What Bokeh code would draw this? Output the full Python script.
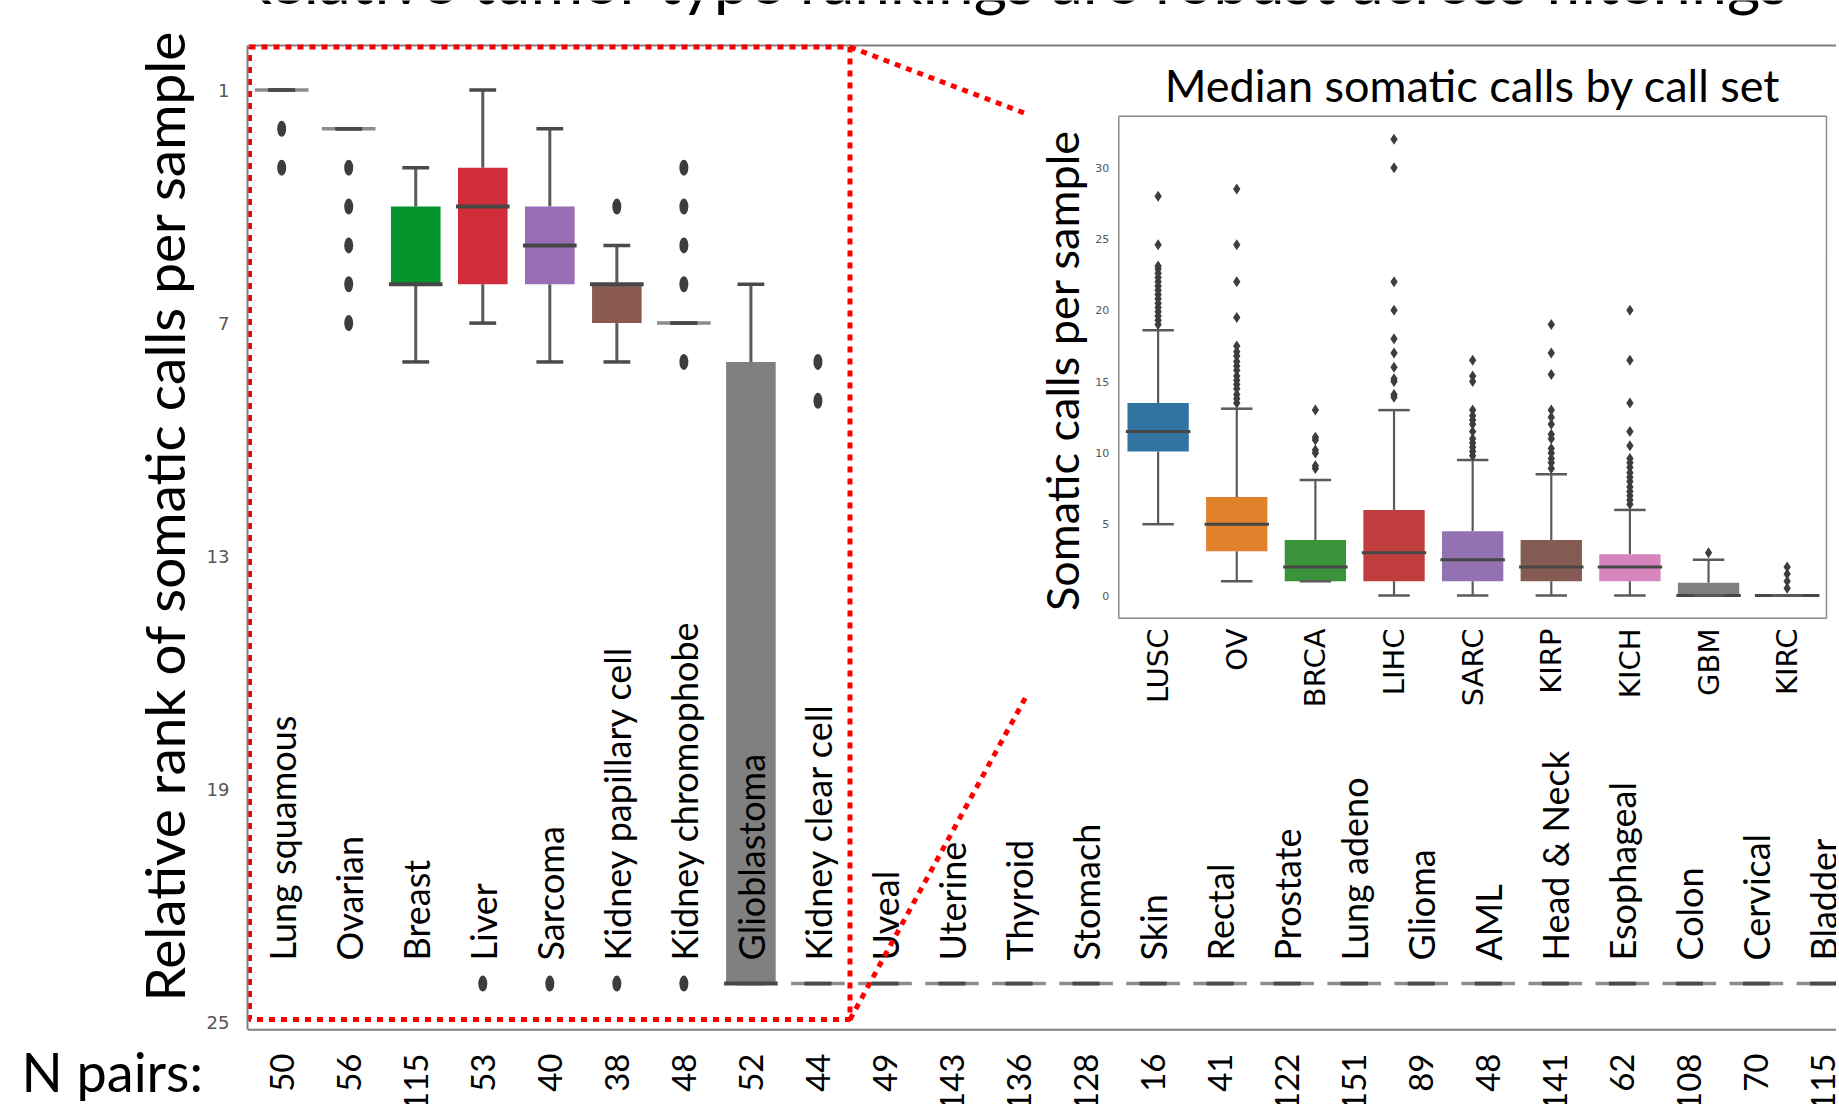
import math
from bokeh.plotting import figure
from bokeh.layouts import row
from bokeh.models import Range1d, FixedTicker
from bokeh.core.properties import value
from bokeh.embed import file_html
from bokeh.resources import INLINE

# ---------------- data: relative rank per tumor type ----------------
tumor_types = ["Lung squamous", "Ovarian", "Breast", "Liver", "Sarcoma",
               "Kidney papillary cell", "Kidney chromophobe", "Glioblastoma",
               "Kidney clear cell", "Uveal", "Uterine", "Thyroid", "Stomach", "Skin",
               "Rectal", "Prostate", "Lung adeno", "Glioma", "AML", "Head & Neck",
               "Esophageal", "Colon", "Cervical", "Bladder"]
n_pairs = [50, 56, 115, 53, 40, 38, 48, 52, 44, 49, 143, 136, 128, 16, 41, 122,
           151, 89, 48, 141, 62, 108, 70, 115]
rank_whisker_top = [1, 2, 3, 1, 2, 5, 7, 6, 24, 24, 24, 24, 24, 24, 24, 24, 24, 24, 24, 24, 24, 24, 24, 24]
rank_q1 = [1, 2, 4, 3, 4, 6, 7, 8, 24, 24, 24, 24, 24, 24, 24, 24, 24, 24, 24, 24, 24, 24, 24, 24]
rank_median = [1, 2, 6, 4, 5, 6, 7, 24, 24, 24, 24, 24, 24, 24, 24, 24, 24, 24, 24, 24, 24, 24, 24, 24]
rank_q3 = [1, 2, 6, 6, 6, 7, 7, 24, 24, 24, 24, 24, 24, 24, 24, 24, 24, 24, 24, 24, 24, 24, 24, 24]
rank_whisker_bottom = [1, 2, 8, 7, 8, 8, 7, 24, 24, 24, 24, 24, 24, 24, 24, 24, 24, 24, 24, 24, 24, 24, 24, 24]
rank_outliers = [[2, 3], [3, 4, 5, 6, 7], [], [24], [24], [4, 24], [3, 4, 5, 6, 8, 24], [],
                 [8, 9], [], [], [], [], [], [], [], [], [], [], [], [], [], [], []]
rank_colors = ["#1f77b4", "#ff7f0e", "#02932a", "#d02c39", "#9a6db6", "#8b5a50",
               "#e377c2", "#808080", "#bcbd22", "#17becf", "#1f77b4", "#ff7f0e",
               "#2ca02c", "#d62728", "#9467bd", "#8c564b", "#e377c2", "#7f7f7f",
               "#bcbd22", "#17becf", "#1f77b4", "#ff7f0e", "#2ca02c", "#d62728"]
rank_ticks = [1, 7, 13, 19, 25]

# ---------------- data: inset, median somatic calls by call set ----------------
call_sets = ["LUSC", "OV", "BRCA", "LIHC", "SARC", "KIRP", "KICH", "GBM", "KIRC"]
calls_whisker_low = [5.0, 1.0, 1.0, 0.0, 0.0, 0.0, 0.0, 0.0, 0.0]
calls_q1 = [10.1, 3.1, 1.0, 1.0, 1.0, 1.0, 1.0, 0.0, 0.0]
calls_median = [11.5, 5.0, 2.0, 3.0, 2.5, 2.0, 2.0, 0.0, 0.0]
calls_q3 = [13.5, 6.9, 3.9, 6.0, 4.5, 3.9, 2.9, 0.9, 0.0]
calls_whisker_high = [18.6, 13.1, 8.1, 13.0, 9.5, 8.5, 6.0, 2.5, 0.0]
calls_outliers = [
    [19.0, 19.3, 19.6, 19.9, 20.2, 20.5, 20.8, 21.1, 21.4, 21.7, 22.0, 22.3, 22.6, 22.9, 23.1, 24.6, 28.0],
    [13.5, 13.8, 14.1, 14.5, 14.8, 15.1, 15.4, 15.8, 16.1, 16.4, 16.8, 17.1, 17.5, 19.5, 22.0, 24.6, 28.5],
    [8.9, 9.1, 10.0, 10.2, 10.9, 11.1, 13.0],
    [13.9, 14.1, 15.0, 15.2, 16.0, 17.0, 18.0, 20.0, 22.0, 30.0, 32.0],
    [9.8, 10.1, 10.4, 10.7, 11.0, 11.5, 12.0, 12.3, 12.6, 13.0, 15.0, 15.4, 16.5],
    [8.9, 9.3, 9.6, 10.0, 10.3, 11.0, 11.3, 12.0, 12.5, 13.0, 15.5, 17.0, 19.0],
    [6.4, 6.7, 7.0, 7.3, 7.6, 8.0, 8.3, 8.6, 9.0, 9.3, 9.6, 10.5, 11.5, 13.5, 16.5, 20.0],
    [3.0],
    [0.5, 1.0, 1.5, 2.0],
]
calls_colors = ["#3274a1", "#e1812c", "#3a923a", "#c03d3e", "#9372b2", "#845b53",
                "#d684bd", "#7f7f7f", "#a9aa35"]
calls_ticks = [0, 5, 10, 15, 20, 25, 30]

# ---------------- layout (page pixels) ----------------
TOTAL_W, TOTAL_H = 1836, 1104
STRIP_W = 203          # left strip holding the big axis title and "N pairs:"
AX_W = 40              # room for the rank tick labels
FRAME_L = STRIP_W + AX_W
MAIN_W = TOTAL_W - STRIP_W
PX_PER_CAT = 67.2
PX_PER_RANK = 38.85
RANK1_PY = 89.5
X0 = -0.51
X1 = X0 + (TOTAL_W - FRAME_L) / PX_PER_CAT
MID = 0.387            # em-box centre above the baseline (text_baseline="middle")


def mx(px):
    return X0 + (px - FRAME_L) / PX_PER_CAT


def my(py):
    return 1 + (py - RANK1_PY) / PX_PER_RANK


y_main = Range1d(my(TOTAL_H), my(0))

# ---------------- left strip ----------------
s = figure(width=STRIP_W, height=TOTAL_H, output_backend="svg", toolbar_location=None,
           x_range=Range1d(0, STRIP_W), y_range=y_main, min_border=0,
           x_axis_location=None, y_axis_location=None)
s.outline_line_color = None
s.grid.visible = False
s.text(x=[185 - MID * 55], y=[my(515)], text=["Relative rank of somatic calls per sample"],
       angle=math.pi / 2, text_align="center", text_baseline="middle", text_font=value("Lato"),
       text_font_size="55px", text_color="black")
s.text(x=[21], y=[my(1092 - MID * 54)], text=["N pairs:"], text_align="left", text_baseline="middle",
       text_font=value("Lato"), text_font_size="54px", text_color="black")

# ---------------- main figure ----------------
p = figure(width=MAIN_W, height=TOTAL_H, output_backend="svg", toolbar_location=None,
           x_range=Range1d(X0, X1), y_range=y_main, x_axis_location=None,
           min_border_left=AX_W, min_border_right=0, min_border_top=0, min_border_bottom=0)
p.outline_line_color = None
p.grid.visible = False

SPINE = "#808080"
TOP_V, BOT_V = my(45), my(1029.3)
p.yaxis.ticker = FixedTicker(ticks=rank_ticks)
p.yaxis.bounds = (TOP_V, BOT_V)
p.yaxis.major_tick_line_color = None
p.yaxis.minor_tick_line_color = None
p.yaxis.axis_line_color = SPINE
p.yaxis.axis_line_width = 2
p.yaxis.major_label_text_font = "DejaVu Sans"
p.yaxis.major_label_text_font_size = "18px"
p.yaxis.major_label_text_color = "#555555"
p.yaxis.major_label_standoff = 12

# top and bottom spines
p.segment(x0=[X0, X0], y0=[TOP_V, BOT_V], x1=[X1, X1], y1=[TOP_V, BOT_V],
          line_color=SPINE, line_width=2)

# slide title, cut at the top edge as in the slide (anchor kept inside the frame, shifted up)
TITLE_PX = 64
title_base = 4
title_anchor = 12
p.text(x=[mx(1008)], y=[my(title_anchor)],
       text=["Relative tumor type rankings are robust across filterings"],
       y_offset=(title_base - MID * TITLE_PX) - title_anchor,
       text_align="center", text_baseline="middle", text_font=value("Lato"),
       text_font_size=f"{TITLE_PX}px", text_color="black")

# ---------------- main box plot ----------------
idx = list(range(len(tumor_types)))
HB, HM, HC = 0.37, 0.40, 0.20

boxed = [i for i in idx if rank_q1[i] != rank_q3[i]]
flat = [i for i in idx if rank_q1[i] == rank_q3[i]]

up = [i for i in idx if rank_whisker_top[i] < rank_q1[i]]
p.segment(x0=up, y0=[rank_whisker_top[i] for i in up], x1=up, y1=[rank_q1[i] for i in up],
          line_color="#5a5a5a", line_width=3)
dn = [i for i in idx if rank_whisker_bottom[i] > rank_q3[i]]
p.segment(x0=dn, y0=[rank_q3[i] for i in dn], x1=dn, y1=[rank_whisker_bottom[i] for i in dn],
          line_color="#5a5a5a", line_width=3)

p.quad(left=[i - HB for i in boxed], right=[i + HB for i in boxed],
       top=[rank_q1[i] for i in boxed], bottom=[rank_q3[i] for i in boxed],
       fill_color=[rank_colors[i] for i in boxed], line_color=None)

p.segment(x0=[i - HM for i in boxed], y0=[rank_median[i] for i in boxed],
          x1=[i + HM for i in boxed], y1=[rank_median[i] for i in boxed],
          line_color="#474747", line_width=4)
p.segment(x0=[i - HM for i in flat], y0=[rank_median[i] for i in flat],
          x1=[i + HM for i in flat], y1=[rank_median[i] for i in flat],
          line_color="#8c8c8c", line_width=3.5)

p.segment(x0=[i - HC for i in idx], y0=rank_whisker_top, x1=[i + HC for i in idx], y1=rank_whisker_top,
          line_color="#4a4a4a", line_width=3.5)
p.segment(x0=[i - HC for i in idx], y0=rank_whisker_bottom, x1=[i + HC for i in idx], y1=rank_whisker_bottom,
          line_color="#4a4a4a", line_width=3.5)

ox = [i for i in idx for _ in rank_outliers[i]]
oy = [v for i in idx for v in rank_outliers[i]]
p.ellipse(x=ox, y=oy, width=9, height=16, width_units="screen", height_units="screen",
          fill_color="#3d3d3d", line_color=None)

# category labels inside the plot and pair counts under it
p.text(x=idx, y=[my(960)] * len(idx), text=tumor_types, angle=math.pi / 2,
       text_align="left", text_baseline="middle", text_font=value("Lato"),
       text_font_size="36px", text_color="black")
p.text(x=idx, y=[my(1053)] * len(idx), text=[str(n) for n in n_pairs], angle=math.pi / 2,
       text_align="right", text_baseline="middle", text_font=value("Lato"),
       text_font_size="33px", text_color="black")

# ---------------- red zoom marker ----------------
RED = "#ff0000"
rx0, rx1 = mx(245), mx(847)
ry0, ry1 = my(46.5), my(1019)
p.line(x=[rx0, rx1, rx1, rx0, rx0], y=[ry0, ry0, ry1, ry1, ry0], line_color=RED,
       line_width=5, line_dash="6 6")
p.line(x=[rx1, mx(1023)], y=[ry0, my(113)], line_color=RED, line_width=5, line_dash="6 6")
p.line(x=[rx1, mx(1023)], y=[ry1, my(697)], line_color=RED, line_width=5, line_dash="6 6")

# ---------------- inset ----------------
IPX_X, IPX_Y = 78.83, 14.261      # pixels per inset category / per call
INSET_L, INSET_ZERO = 1116.5, 595.0
ix0 = -0.5 - (INSET_L - FRAME_L) / IPX_X
p.extra_x_ranges = {"ix": Range1d(ix0, ix0 + (TOTAL_W - FRAME_L) / IPX_X)}
p.extra_y_ranges = {"iy": Range1d(-(TOTAL_H - INSET_ZERO) / IPX_Y, INSET_ZERO / IPX_Y)}
IK = dict(x_range_name="ix", y_range_name="iy")


def ipx(px):
    return -0.5 + (px - INSET_L) / IPX_X


def ipy(py):
    return (INSET_ZERO - py) / IPX_Y


p.quad(left=[-0.5], right=[8.5], bottom=[-1.6], top=[33.6], fill_color="white",
       line_color="#8c8c8c", line_width=1.5, **IK)

cidx = list(range(len(call_sets)))
IHB, IHM, IHC = 0.39, 0.41, 0.2
cu = [i for i in cidx if calls_whisker_high[i] > calls_q3[i]]
p.segment(x0=cu, y0=[calls_q3[i] for i in cu], x1=cu, y1=[calls_whisker_high[i] for i in cu],
          line_color="#5a5a5a", line_width=2.2, **IK)
cd = [i for i in cidx if calls_whisker_low[i] < calls_q1[i]]
p.segment(x0=cd, y0=[calls_whisker_low[i] for i in cd], x1=cd, y1=[calls_q1[i] for i in cd],
          line_color="#5a5a5a", line_width=2.2, **IK)
p.quad(left=[i - IHB for i in cidx], right=[i + IHB for i in cidx], bottom=calls_q1, top=calls_q3,
       fill_color=calls_colors, line_color=None, **IK)
p.segment(x0=[i - IHM for i in cidx], y0=calls_median, x1=[i + IHM for i in cidx], y1=calls_median,
          line_color="#474747", line_width=3, **IK)
p.segment(x0=[i - IHC for i in cidx], y0=calls_whisker_high, x1=[i + IHC for i in cidx], y1=calls_whisker_high,
          line_color="#5a5a5a", line_width=2.5, **IK)
p.segment(x0=[i - IHC for i in cidx], y0=calls_whisker_low, x1=[i + IHC for i in cidx], y1=calls_whisker_low,
          line_color="#5a5a5a", line_width=2.5, **IK)
cox = [i for i in cidx for _ in calls_outliers[i]]
coy = [v for i in cidx for v in calls_outliers[i]]
p.scatter(x=cox, y=coy, marker="diamond", size=11, fill_color="#3d3d3d", line_color=None, **IK)

p.text(x=[ipx(1107)] * len(calls_ticks), y=calls_ticks, text=[str(t) for t in calls_ticks],
       text_align="right", text_baseline="middle", text_font=value("DejaVu Sans"),
       text_font_size="11px", text_color="#555555", **IK)
p.text(x=[ipx(1077 - MID * 45)], y=[ipy(370)], text=["Somatic calls per sample"], angle=math.pi / 2,
       text_align="center", text_baseline="middle", text_font=value("Lato"),
       text_font_size="45px", text_color="black", **IK)
p.text(x=cidx, y=[ipy(628)] * len(cidx), text=call_sets, angle=math.pi / 2,
       text_align="right", text_baseline="middle", text_font=value("DejaVu Sans"),
       text_font_size="29px", text_color="black", **IK)
p.text(x=[4.0], y=[ipy(101.7 - MID * 45)], text=["Median somatic calls by call set"],
       text_align="center", text_baseline="middle", text_font=value("Lato"),
       text_font_size="45px", text_color="black", **IK)

layout = row(s, p, spacing=0)
open("out.html", "w").write(file_html(layout, INLINE))
